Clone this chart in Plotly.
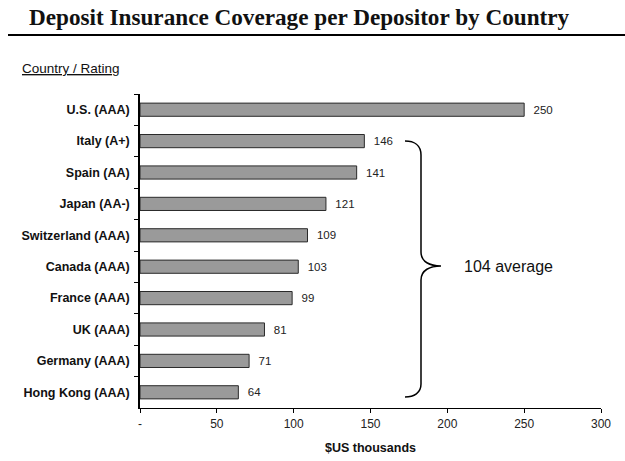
import plotly.graph_objects as go

countries = ["U.S. (AAA)", "Italy (A+)", "Spain (AA)", "Japan (AA-)", "Switzerland (AAA)",
             "Canada (AAA)", "France (AAA)", "UK (AAA)", "Germany (AAA)", "Hong Kong (AAA)"]
coverage = [250, 146, 141, 121, 109, 103, 99, 81, 71, 64]
x_ticks = [0, 50, 100, 150, 200, 250, 300]
x_tick_labels = ["-", "50", "100", "150", "200", "250", "300"]

W, H = 625, 461
L, R, T, B = 140, 24, 94, 53
pw, ph = W - L - R, H - T - B

def px(x):
    return (x - L) / pw

def py(y):
    return (H - B - y) / ph

fig = go.Figure(go.Bar(
    y=countries, x=coverage, orientation="h",
    marker=dict(color="#9a9a9a", line=dict(color="#2a2a2a", width=1)),
    text=["  " + str(v) for v in coverage], textposition="outside",
    textfont=dict(family="Arial", size=11.5, color="#222"),
    cliponaxis=False, width=0.42,
))

# brace path in pixel coords converted to paper
pts = [
    ("M", [(405, 141)]),
    ("C", [(414, 141), (421, 145), (421, 155)]),
    ("L", [(421, 252)]),
    ("C", [(421, 262), (430, 266), (441, 266)]),
    ("C", [(430, 266), (421, 270), (421, 280)]),
    ("L", [(421, 384)]),
    ("C", [(421, 393), (414, 397), (405, 397)]),
]
path = ""
for cmd, ps in pts:
    path += cmd + " " + " ".join(f"{px(a):.5f},{py(b):.5f}" for a, b in ps) + " "

fig.add_shape(type="path", path=path, xref="paper", yref="paper",
              line=dict(color="black", width=1.5))
# title underline
fig.add_shape(type="line", xref="paper", yref="paper",
              x0=px(8), x1=px(625), y0=py(35), y1=py(35),
              line=dict(color="black", width=2))

fig.add_annotation(x=px(462), y=py(266), xref="paper", yref="paper", xanchor="left",
                   yanchor="middle", text="104 average", showarrow=False,
                   font=dict(family="Arial", size=16, color="#111"))
fig.add_annotation(x=px(20), y=py(68), xref="paper", yref="paper", xanchor="left",
                   yanchor="middle", text="<u>Country / Rating</u>", showarrow=False,
                   font=dict(family="Arial", size=13.5, color="#111"))
fig.add_annotation(x=px(370), y=py(448), xref="paper", yref="paper", xanchor="center",
                   yanchor="middle", text="<b>$US thousands</b>", showarrow=False,
                   font=dict(family="Arial", size=12.5, color="#111"))
fig.add_annotation(x=px(27), y=py(17), xref="paper", yref="paper", xanchor="left",
                   yanchor="middle", text="<b>Deposit Insurance Coverage per Depositor by Country</b>",
                   showarrow=False,
                   font=dict(family="Liberation Serif", size=23.2, color="#111"))

fig.update_layout(
    width=W, height=H, margin=dict(l=L, r=R, t=T, b=B),
    paper_bgcolor="white", plot_bgcolor="white", showlegend=False,
    xaxis=dict(range=[0, 300], tickvals=x_ticks, ticktext=x_tick_labels,
               showgrid=False, zeroline=False, showline=True, linecolor="black",
               linewidth=1.2, ticks="outside", ticklen=4, tickcolor="black",
               tickfont=dict(family="Arial", size=12, color="#222")),
    yaxis=dict(categoryorder="array", categoryarray=countries, autorange="reversed",
               showgrid=False, showline=True, linecolor="black", linewidth=1.5,
               ticks="outside", ticklen=4, tickcolor="black", tickson="boundaries",
               tickfont=dict(family="Arial", size=12.5, color="#111", weight="bold"),
               ticklabelstandoff=6),
)

fig.write_html("out.html")
